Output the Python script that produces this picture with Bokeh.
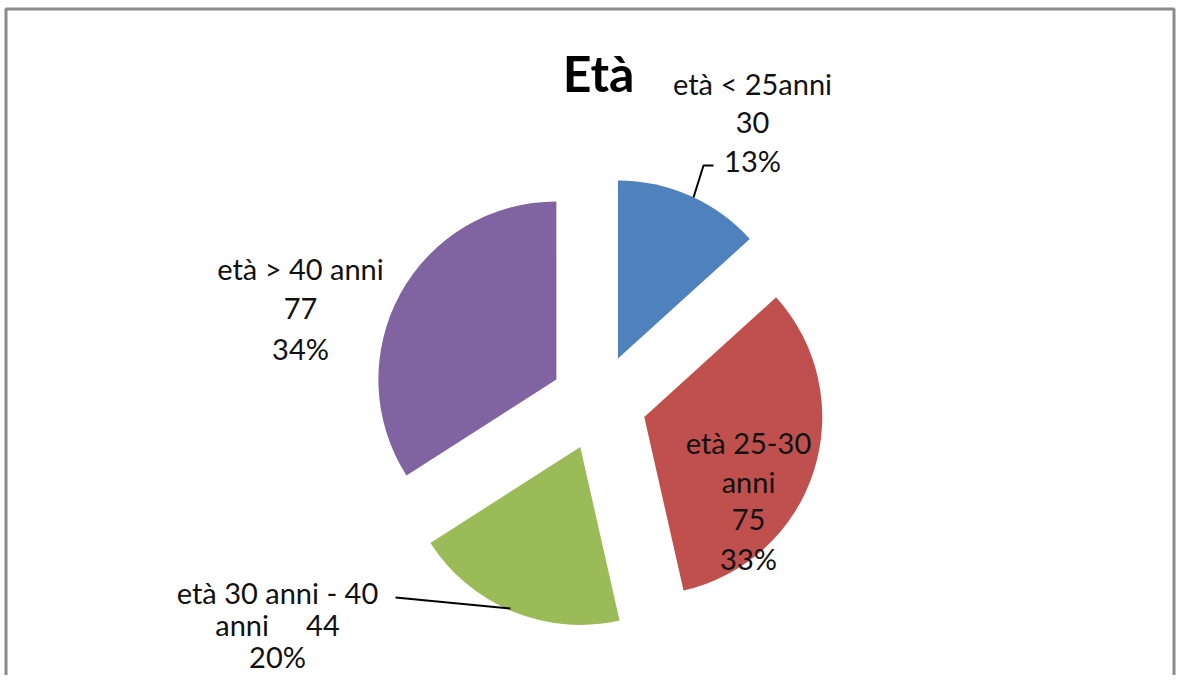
import math
from bokeh.plotting import figure
from bokeh.models import Range1d
from bokeh.core.properties import value
from bokeh.embed import file_html
from bokeh.resources import INLINE

# ---- data ----
categories = ["età < 25anni", "età 25-30 anni", "età 30 anni - 40 anni", "età > 40 anni"]
values = [30, 75, 44, 77]
percent_labels = ["13%", "33%", "20%", "34%"]
colors = ["#4F81BD", "#C0504D", "#9BBB59", "#8064A2"]
title_text = "Età"

# wrapped label lines as shown in chart
label_lines = [
    ["età < 25anni", "30", "13%"],
    ["età 25-30", "anni", "75", "33%"],
    ["età 30 anni - 40", "anni\u00a0\u00a0\u00a0\u00a0\u00a044", "20%"],
    ["età > 40 anni", "77", "34%"],
]

# ---- layout (screen px; data y = -screen y) ----
W, H = 1176, 675
cx, cy = 598, -402
R = 178
explode = 48
label_pos = [(752, 83, 38.5), (748, 442, 38.5), (277, 592, 32), (300, 268, 40)]
FONT = "Lato"

p = figure(width=W, height=H, output_backend="svg", toolbar_location=None,
           x_range=Range1d(0, W), y_range=Range1d(-H, 0),
           min_border=0, background_fill_color="white", border_fill_color="white")
p.axis.visible = False
p.grid.visible = False
p.outline_line_color = None

# chart frame
p.quad(left=[5.5], right=[W - 2.5], top=[-8.5], bottom=[-H - 20],
       fill_color=None, line_color="#8a8a8a", line_width=3)

total = sum(values)
cum = 0
xs, ys, starts, ends = [], [], [], []
for v in values:
    a0 = math.pi / 2 - 2 * math.pi * cum / total
    a1 = a0 - 2 * math.pi * v / total
    mid = (a0 + a1) / 2
    xs.append(cx + explode * math.cos(mid))
    ys.append(cy + explode * math.sin(mid))
    starts.append(a1)
    ends.append(a0)
    cum += v

p.wedge(x=xs, y=ys, radius=R, start_angle=starts, end_angle=ends,
        direction="anticlock", fill_color=colors, line_color=None)

# leader lines
p.line(x=[713, 703, 693], y=[-165, -165, -197], line_color="black", line_width=2)
p.line(x=[395, 510], y=[-597, -608], line_color="black", line_width=2)

# labels
tx, ty, tt = [], [], []
for lines, (lx, ly, sp) in zip(label_lines, label_pos):
    for k, s in enumerate(lines):
        tx.append(lx)
        ty.append(-(ly + k * sp))
        tt.append(s)
p.text(x=tx, y=ty, text=tt, text_font=value(FONT), text_font_size="29px",
       text_align="center", text_baseline="middle", text_color="#111111")

p.text(x=[598], y=[-72], text=[title_text], text_font=value(FONT), text_font_size="50px",
       text_font_style="bold", text_align="center", text_baseline="middle", text_color="black")

open("out.html", "w").write(file_html(p, INLINE))
